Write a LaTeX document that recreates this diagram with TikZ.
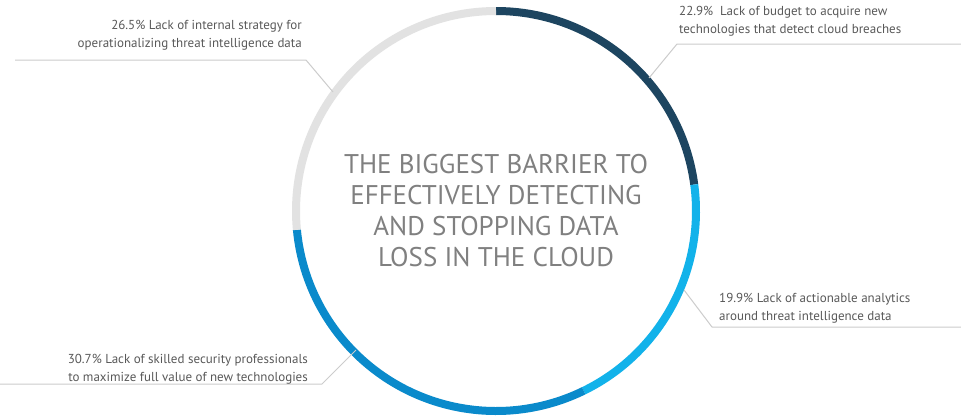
\documentclass[tikz,border=0pt]{standalone}
\usepackage{fontspec}
\usetikzlibrary{calc}
\setmainfont{PT Sans}
\begin{document}
\begin{tikzpicture}[x=1pt,y=-1pt,
  seg/.style={line width=8pt},
  lead/.style={draw=black!20,line width=1pt},
  lab/.style={font=\fontsize{13}{18}\selectfont,text=black!65,inner sep=0pt}]
\useasboundingbox[fill=white] (0,0) rectangle (961,416);
\definecolor{navy}{HTML}{1D4560}
\definecolor{lblue}{HTML}{12B2EA}
\definecolor{mblue}{HTML}{0A8ACB}
\definecolor{lgray}{HTML}{E2E2E2}
\coordinate (c) at (496,211);
\draw[seg,navy] ($(c)+(-90:200)$) arc[start angle=-90,end angle=-7.6,radius=200];
\draw[seg,lblue] ($(c)+(-7.6:200)$) arc[start angle=-7.6,end angle=64,radius=200];
\draw[seg,mblue] ($(c)+(64:200)$) arc[start angle=64,end angle=174.6,radius=200];
\draw[seg,lgray] ($(c)+(174.6:200)$) arc[start angle=174.6,end angle=270,radius=200];
\node[font=\fontsize{27}{31}\selectfont,text=black!50,align=center] (t) at (496,211)
 {THE BIGGEST BARRIER TO\\EFFECTIVELY DETECTING\\AND STOPPING DATA\\LOSS IN THE CLOUD};
\coordinate (a1) at (649,78); \coordinate (a2) at (677,44); \coordinate (a3) at (961,44);
\draw[lead] (a1)--(a2)--(a3);
\node[lab,anchor=south west,align=left] (l1) at (679,36) {22.9\%\ \ Lack of budget to acquire new\\technologies that detect cloud breaches};
\coordinate (b1) at (333,92); \coordinate (b2) at (306,60); \coordinate (b3) at (15,60);
\draw[lead] (b1)--(b2)--(b3);
\node[lab,anchor=south east,align=right] (l2) at (302,50) {26.5\% Lack of internal strategy for\\operationalizing threat intelligence data};
\coordinate (d1) at (684,290); \coordinate (d2) at (712,327); \coordinate (d3) at (961,327);
\draw[lead] (d1)--(d2)--(d3);
\node[lab,anchor=south west,align=left] (l3) at (719,323) {19.9\% Lack of actionable analytics\\around threat intelligence data};
\coordinate (e1) at (356,350); \coordinate (e2) at (322,384); \coordinate (e3) at (0,384);
\draw[lead] (e1)--(e2)--(e3);
\node[lab,anchor=south east,align=right] (l4) at (308,384) {30.7\% Lack of skilled security professionals\\to maximize full value of new technologies};
\end{tikzpicture}
\end{document}
